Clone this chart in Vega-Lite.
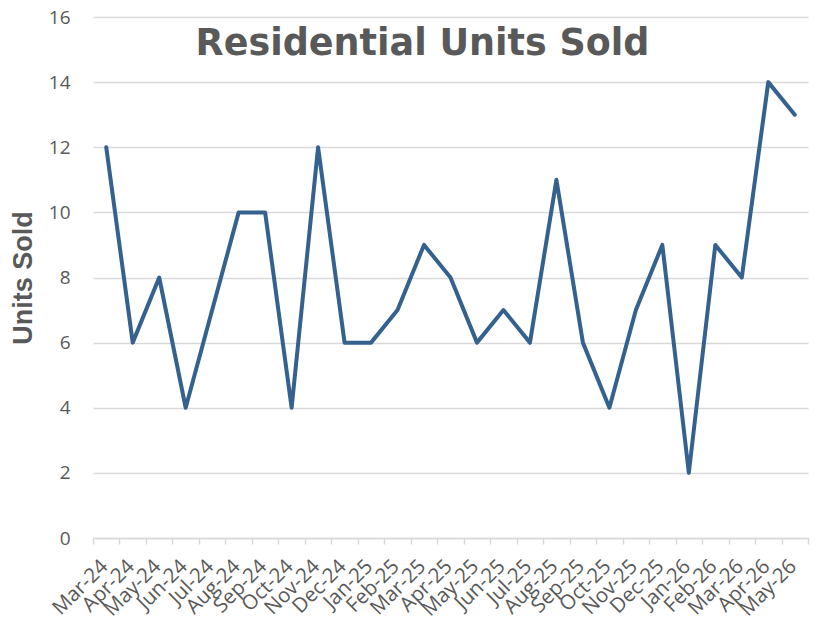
{
  "$schema": "https://vega.github.io/schema/vega-lite/v6.json",
  "width": 715,
  "height": 521,
  "autosize": "none",
  "padding": {"left": 93, "top": 17, "right": 11, "bottom": 83},
  "background": "white",
  "title": {
    "text": "Residential Units Sold",
    "font": "DejaVu Sans",
    "fontSize": 36.5,
    "fontWeight": "bold",
    "color": "#595959",
    "anchor": "middle",
    "frame": "group",
    "dx": -28,
    "baseline": "alphabetic",
    "offset": 0,
    "dy": 83
  },
  "data": {
    "values": [
      {"month": "Mar-24", "units": 12},
      {"month": "Apr-24", "units": 6},
      {"month": "May-24", "units": 8},
      {"month": "Jun-24", "units": 4},
      {"month": "Jul-24", "units": 7},
      {"month": "Aug-24", "units": 10},
      {"month": "Sep-24", "units": 10},
      {"month": "Oct-24", "units": 4},
      {"month": "Nov-24", "units": 12},
      {"month": "Dec-24", "units": 6},
      {"month": "Jan-25", "units": 6},
      {"month": "Feb-25", "units": 7},
      {"month": "Mar-25", "units": 9},
      {"month": "Apr-25", "units": 8},
      {"month": "May-25", "units": 6},
      {"month": "Jun-25", "units": 7},
      {"month": "Jul-25", "units": 6},
      {"month": "Aug-25", "units": 11},
      {"month": "Sep-25", "units": 6},
      {"month": "Oct-25", "units": 4},
      {"month": "Nov-25", "units": 7},
      {"month": "Dec-25", "units": 9},
      {"month": "Jan-26", "units": 2},
      {"month": "Feb-26", "units": 9},
      {"month": "Mar-26", "units": 8},
      {"month": "Apr-26", "units": 14},
      {"month": "May-26", "units": 13}
    ]
  },
  "mark": {"type": "line", "color": "#35618F", "strokeWidth": 4, "strokeCap": "round", "strokeJoin": "round"},
  "encoding": {
    "x": {
      "field": "month",
      "type": "ordinal",
      "sort": null,
      "scale": {"type": "band", "paddingInner": 0, "paddingOuter": 0},
      "axis": {
        "title": null,
        "tickBand": "extent",
        "grid": false,
        "domainColor": "#d9d9d9",
        "domainWidth": 1.5,
        "tickColor": "#d9d9d9",
        "tickWidth": 1.5,
        "tickSize": 6,
        "labelAngle": -45,
        "labelAlign": "right",
        "labelBaseline": "middle",
        "labelFont": "Open Sans",
        "labelFontSize": 20.5,
        "labelColor": "#595959",
        "labelPadding": 19,
        "labelOverlap": false,
        "labelOffset": -2
      }
    },
    "y": {
      "field": "units",
      "type": "quantitative",
      "scale": {"domain": [0, 16], "nice": false},
      "axis": {
        "title": "Units Sold",
        "titleFont": "Liberation Sans",
        "titleFontSize": 27,
        "titleFontWeight": "bold",
        "titleColor": "#595959",
        "titlePadding": 11,
        "values": [0, 2, 4, 6, 8, 10, 12, 14, 16],
        "domain": false,
        "ticks": false,
        "grid": true,
        "gridColor": "#d9d9d9",
        "gridWidth": 1.5,
        "labelFont": "Open Sans",
        "labelFontSize": 19,
        "labelColor": "#595959",
        "labelPadding": 23
      }
    }
  },
  "config": {"view": {"stroke": null}}
}
